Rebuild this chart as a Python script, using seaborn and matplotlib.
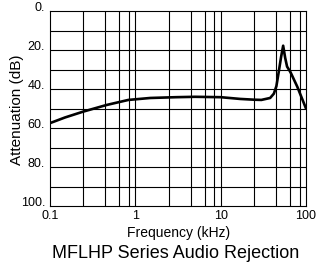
import numpy as np
import pandas as pd
import matplotlib
matplotlib.use("Agg")
import matplotlib.pyplot as plt
import seaborn as sns

# values
freq_khz = [0.1, 0.15, 0.245, 0.46, 0.83, 1.5, 3, 5, 10, 17, 25, 30, 38, 42, 45,
            48, 51, 54, 57, 60, 66, 79, 90, 100]
atten_db = [57.5, 54.6, 51.6, 48.2, 45.6, 44.6, 44.2, 44.0, 44.2, 45.1, 45.5, 45.6,
            44.6, 42.4, 38.5, 31.0, 23.7, 17.8, 24.0, 28.5, 31.5, 38.8, 45.0, 50.0]
x_ticks = [0.1, 1, 10, 100]
x_labels = ["0.1", "1", "10", "100"]
y_ticks = [0, 20, 40, 60, 80, 100]
y_labels = ["0.", "20.", "40.", "60.", "80.", "100."]
title = "MFLHP Series Audio Rejection"

df = pd.DataFrame({"freq": freq_khz, "atten": atten_db})

sns.set_style("white")
plt.rcParams["font.family"] = ["Liberation Sans", "DejaVu Sans"]
plt.rcParams["text.color"] = "black"
plt.rcParams["xtick.color"] = "black"
plt.rcParams["ytick.color"] = "black"

W, H = 318, 266
fig = plt.figure(figsize=(W / 100, H / 100), dpi=100)
ax = fig.add_axes([50 / W, 1 - 206 / H, 256 / W, 195 / H])

# odd vertical grid spacing as drawn on the original sheet
minor_x = []
for dec in [0.1, 1, 10]:
    for m in [2.45, 4.45, 6.5, 8.4]:
        minor_x.append(dec * m)
for xv in minor_x + [1, 10]:
    ax.axvline(xv, color="black", lw=0.8, zorder=1)
for yv in range(10, 100, 10):
    ax.axhline(yv, color="black", lw=0.8, zorder=1)

sns.lineplot(data=df, x="freq", y="atten", color="black", lw=1.9, sort=False,
             ax=ax, zorder=3)

ax.set_xscale("log")
ax.set_xlim(0.1, 100)
ax.set_ylim(100, 0)
ax.set_xticks(x_ticks)
ax.set_xticklabels(x_labels, fontsize=9)
ax.set_xticks([], minor=True)
ax.set_yticks(y_ticks)
ax.set_yticklabels(y_labels, fontsize=9, va="baseline")
ax.tick_params(axis="x", length=0, pad=3)
ax.tick_params(axis="y", length=1.5, pad=2, color="black", width=0.8)
ax.set_xlabel("")
ax.set_ylabel("")
for s in ax.spines.values():
    s.set_color("black")
    s.set_linewidth(0.8)

fig.text(179 / W, 1 - 237.3 / H, "Frequency (kHz)", ha="center", va="baseline",
         fontsize=10)
fig.text(176 / W, 1 - 257.5 / H, title, ha="center", va="baseline", fontsize=13)
fig.text(17 / W, 1 - 110 / H, "Attenuation (dB)", ha="center", va="center",
         rotation=90, fontsize=11)

fig.savefig("out.png", dpi=100)
